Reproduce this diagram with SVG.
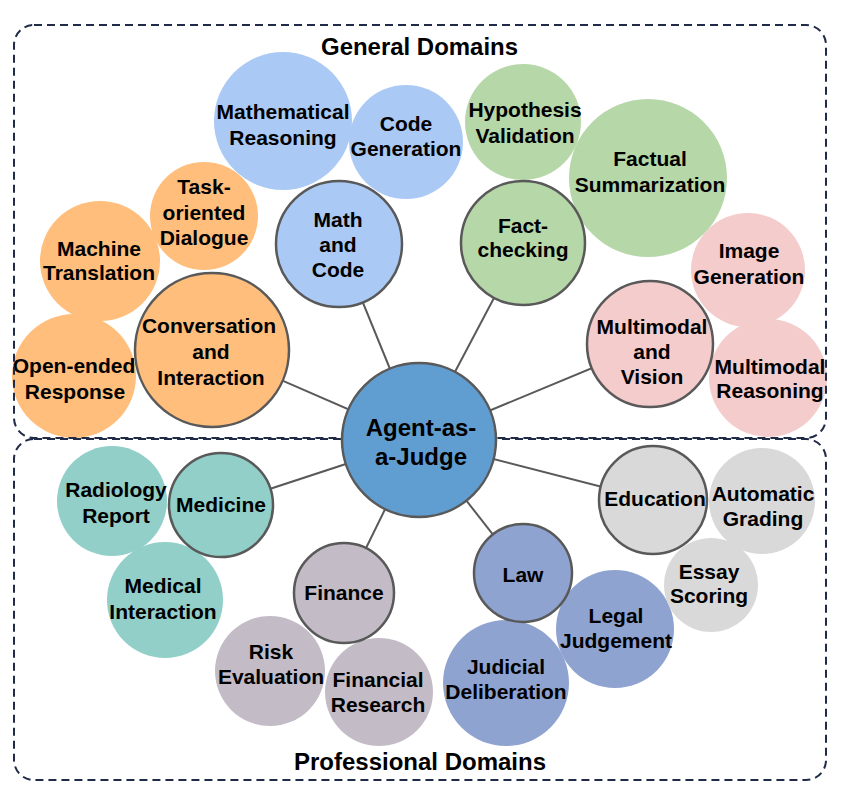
<svg xmlns="http://www.w3.org/2000/svg" width="853" height="793" viewBox="0 0 853 793">
<style>
text{font-family:"Liberation Sans",Arial,sans-serif;font-weight:bold;font-size:21px;fill:#000;text-anchor:middle}
.t{font-size:23px}
.ctr{font-size:24px}
.box{fill:none;stroke:#1f2b47;stroke-width:2;stroke-dasharray:8 5}
.hub{stroke:#595959;stroke-width:2.5}
.conn line{stroke:#595959;stroke-width:2}
.blue{fill:#abc9f5}.orange{fill:#ffbe7b}.green{fill:#b6d7a8}.pink{fill:#f4cccc}
.teal{fill:#91cfc8}.mauve{fill:#c3bcc7}.slate{fill:#8fa3d0}.gray{fill:#d9d9d9}.center{fill:#609dd1}
</style>
<rect width="853" height="793" fill="#fff"/>

<!-- satellite nodes -->
<g id="mathematical-reasoning"><circle class="blue" cx="283" cy="121" r="69"/><text x="283" y="119">Mathematical</text><text x="283" y="145">Reasoning</text></g>
<g id="code-generation"><circle class="blue" cx="406" cy="142" r="57"/><text x="406" y="131">Code</text><text x="406" y="156">Generation</text></g>
<g id="task-oriented-dialogue"><circle class="orange" cx="204" cy="216" r="54"/><text x="204" y="194">Task-</text><text x="204" y="220">oriented</text><text x="204" y="245">Dialogue</text></g>
<g id="machine-translation"><circle class="orange" cx="100" cy="261" r="60"/><text x="99" y="256">Machine</text><text x="99" y="280">Translation</text></g>
<g id="open-ended-response"><circle class="orange" cx="74" cy="376" r="62"/><text x="74" y="373">Open-ended</text><text x="75" y="399">Response</text></g>
<g id="multimodal-reasoning"><circle class="pink" cx="768" cy="378" r="59"/><text x="770" y="374">Multimodal</text><text x="770" y="398">Reasoning</text></g>
<g id="image-generation"><circle class="pink" cx="748" cy="270" r="57"/><text x="749" y="258">Image</text><text x="749" y="284">Generation</text></g>
<g id="hypothesis-validation"><circle class="green" cx="523" cy="122" r="58"/><text x="525" y="117">Hypothesis</text><text x="525" y="143">Validation</text></g>
<g id="factual-summarization"><circle class="green" cx="648" cy="178" r="79"/><text x="650" y="166">Factual</text><text x="650" y="192">Summarization</text></g>

<g id="radiology-report"><circle class="teal" cx="112" cy="501" r="55"/><text x="116" y="497">Radiology</text><text x="116" y="523">Report</text></g>
<g id="medical-interaction"><circle class="teal" cx="165" cy="600" r="58"/><text x="163" y="593">Medical</text><text x="163" y="619">Interaction</text></g>
<g id="risk-evaluation"><circle class="mauve" cx="270" cy="671" r="55"/><text x="271" y="659">Risk</text><text x="271" y="684">Evaluation</text></g>
<g id="financial-research"><circle class="mauve" cx="379" cy="692" r="54"/><text x="378" y="687">Financial</text><text x="378" y="712">Research</text></g>
<g id="judicial-deliberation"><circle class="slate" cx="506" cy="683" r="63"/><text x="506" y="674">Judicial</text><text x="506" y="699">Deliberation</text></g>
<g id="legal-judgement"><circle class="slate" cx="615" cy="629" r="59"/><text x="616" y="623">Legal</text><text x="616" y="648">Judgement</text></g>
<g id="automatic-grading"><circle class="gray" cx="762" cy="501" r="53"/><text x="763" y="501">Automatic</text><text x="763" y="526">Grading</text></g>
<g id="essay-scoring"><circle class="gray" cx="711" cy="585" r="47"/><text x="709" y="579">Essay</text><text x="709" y="603">Scoring</text></g>

<!-- domain boxes -->
<g id="general-domains"><rect class="box" x="14" y="25" width="812" height="413" rx="20"/><text class="t" x="419.5" y="54.5" textLength="197" lengthAdjust="spacingAndGlyphs">General Domains</text></g>
<g id="professional-domains"><rect class="box" x="14" y="439" width="812" height="341" rx="20"/><text class="t" x="420" y="770" textLength="252" lengthAdjust="spacingAndGlyphs">Professional Domains</text></g>

<!-- connectors -->
<g id="connectors" class="conn">
<line x1="419" y1="440" x2="339" y2="244"/>
<line x1="419" y1="440" x2="212" y2="350"/>
<line x1="419" y1="440" x2="523" y2="243"/>
<line x1="419" y1="440" x2="650" y2="344"/>
<line x1="419" y1="440" x2="221" y2="505"/>
<line x1="419" y1="440" x2="344" y2="593"/>
<line x1="419" y1="440" x2="523" y2="573"/>
<line x1="419" y1="440" x2="653" y2="500"/>
</g>

<!-- hub nodes -->
<g id="math-and-code"><circle class="blue hub" cx="339" cy="244" r="63"/><text x="338" y="227">Math</text><text x="338" y="252">and</text><text x="338" y="277">Code</text></g>
<g id="conversation-and-interaction"><circle class="orange hub" cx="212" cy="350" r="77"/><text x="209" y="333">Conversation</text><text x="211" y="359">and</text><text x="211" y="385">Interaction</text></g>
<g id="fact-checking"><circle class="green hub" cx="523" cy="243" r="62"/><text x="523" y="233">Fact-</text><text x="523" y="257">checking</text></g>
<g id="multimodal-and-vision"><circle class="pink hub" cx="650" cy="344" r="63"/><text x="652" y="334">Multimodal</text><text x="652" y="359">and</text><text x="652" y="384">Vision</text></g>
<g id="medicine"><circle class="teal hub" cx="221" cy="505" r="52"/><text x="221" y="512">Medicine</text></g>
<g id="finance"><circle class="mauve hub" cx="344" cy="593" r="50"/><text x="344" y="600">Finance</text></g>
<g id="law"><circle class="slate hub" cx="523" cy="573" r="49"/><text x="523" y="582">Law</text></g>
<g id="education"><circle class="gray hub" cx="653" cy="500" r="54"/><text x="655" y="506">Education</text></g>

<g id="agent-as-a-judge"><circle class="center hub" cx="419" cy="440" r="77"/><text class="ctr" x="421" y="436">Agent-as-</text><text class="ctr" x="421" y="465">a-Judge</text></g>
</svg>
